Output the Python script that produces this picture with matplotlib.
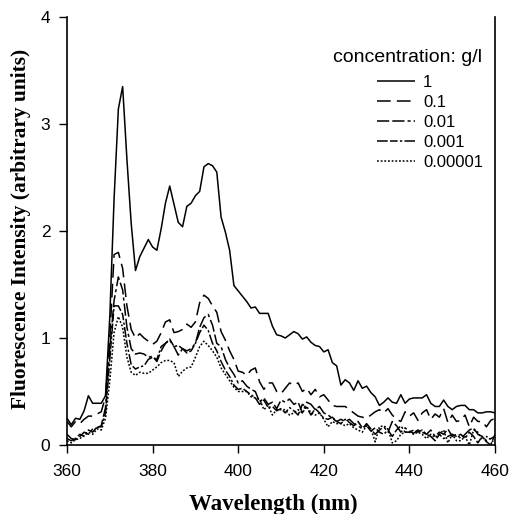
"""Fluorescence emission spectra for several concentrations."""

import numpy as np
from matplotlib import pyplot as plt

# wavelength grid, 1 nm steps
wavelength = np.arange(360, 461)

conc_1 = [
    0.25, 0.19, 0.25, 0.24, 0.32, 0.46, 0.39, 0.39, 0.39, 0.46,
    1.20, 2.30, 3.14, 3.35, 2.67, 2.07, 1.63, 1.76, 1.84, 1.92,
    1.85, 1.82, 2.02, 2.26, 2.42, 2.25, 2.08, 2.04, 2.23, 2.26,
    2.33, 2.37, 2.60, 2.63, 2.61, 2.55, 2.13, 1.99, 1.82, 1.49,
    1.44, 1.39, 1.34, 1.28, 1.29, 1.23, 1.23, 1.23, 1.11, 1.03,
    1.02, 1.00, 1.03, 1.06, 1.04, 0.99, 1.01, 0.96, 0.93, 0.92,
    0.87, 0.89, 0.77, 0.74, 0.56, 0.61, 0.58, 0.51, 0.60, 0.53,
    0.55, 0.49, 0.45, 0.37, 0.40, 0.44, 0.40, 0.39, 0.47, 0.39,
    0.43, 0.44, 0.44, 0.44, 0.47, 0.39, 0.36, 0.36, 0.42, 0.36,
    0.33, 0.36, 0.37, 0.37, 0.33, 0.33, 0.30, 0.30, 0.31, 0.31, 0.30,
]
conc_01 = [
    0.22, 0.17, 0.22, 0.20, 0.24, 0.27, 0.27, 0.29, 0.31, 0.45,
    1.00, 1.78, 1.80, 1.65, 1.30, 1.08, 1.00, 1.04, 1.00, 0.97,
    0.94, 0.97, 1.05, 1.15, 1.17, 1.05, 1.06, 1.08, 1.13, 1.10,
    1.15, 1.33, 1.40, 1.37, 1.30, 1.24, 1.06, 0.98, 0.88, 0.80,
    0.69, 0.68, 0.65, 0.70, 0.72, 0.59, 0.52, 0.58, 0.58, 0.50,
    0.48, 0.53, 0.58, 0.56, 0.58, 0.50, 0.53, 0.47, 0.52, 0.45,
    0.47, 0.42, 0.37, 0.36, 0.36, 0.36, 0.33, 0.30, 0.27, 0.26,
    0.25, 0.28, 0.31, 0.33, 0.30, 0.34, 0.28, 0.24, 0.22, 0.31,
    0.27, 0.30, 0.23, 0.30, 0.33, 0.24, 0.29, 0.26, 0.34, 0.21,
    0.28, 0.22, 0.23, 0.28, 0.17, 0.26, 0.22, 0.22, 0.17, 0.23, 0.25,
]
conc_001 = [
    0.10, 0.06, 0.05, 0.08, 0.12, 0.10, 0.15, 0.16, 0.18, 0.35,
    0.90, 1.35, 1.57, 1.45, 1.10, 0.90, 0.85, 0.86, 0.85, 0.82,
    0.83, 0.78, 0.88, 0.95, 0.98, 0.92, 0.84, 0.90, 0.88, 0.90,
    0.95, 1.10, 1.19, 1.22, 1.12, 0.95, 0.92, 0.80, 0.72, 0.66,
    0.58, 0.60, 0.55, 0.52, 0.50, 0.40, 0.44, 0.38, 0.40, 0.34,
    0.42, 0.40, 0.43, 0.38, 0.40, 0.30, 0.40, 0.38, 0.33, 0.36,
    0.30, 0.28, 0.25, 0.22, 0.24, 0.22, 0.24, 0.20, 0.18, 0.15,
    0.20, 0.15, 0.10, 0.14, 0.17, 0.12, 0.22, 0.18, 0.12, 0.16,
    0.13, 0.11, 0.14, 0.12, 0.10, 0.14, 0.08, 0.12, 0.10, 0.15,
    0.08, 0.10, 0.06, 0.10, 0.14, 0.16, 0.10, 0.08, 0.04, 0.06, 0.08,
]
conc_0001 = [
    0.06, 0.04, 0.06, 0.10, 0.08, 0.14, 0.12, 0.17, 0.17, 0.30,
    0.80, 1.30, 1.30, 1.22, 0.95, 0.75, 0.71, 0.73, 0.74, 0.80,
    0.82, 0.80, 0.92, 0.95, 0.99, 0.92, 0.93, 0.90, 0.86, 0.88,
    0.95, 1.05, 1.12, 1.07, 0.95, 0.88, 0.78, 0.70, 0.64, 0.56,
    0.52, 0.53, 0.50, 0.47, 0.44, 0.38, 0.42, 0.35, 0.36, 0.32,
    0.34, 0.30, 0.35, 0.32, 0.28, 0.38, 0.35, 0.28, 0.34, 0.30,
    0.25, 0.24, 0.26, 0.22, 0.20, 0.24, 0.21, 0.18, 0.22, 0.16,
    0.18, 0.13, 0.16, 0.12, 0.10, 0.14, 0.08, 0.14, 0.18, 0.12,
    0.12, 0.14, 0.12, 0.14, 0.10, 0.08, 0.04, 0.10, 0.06, 0.08,
    0.10, 0.08, 0.10, 0.06, 0.12, 0.08, 0.02, 0.08, 0.03, 0.00, 0.10,
]
conc_000001 = [
    0.04, 0.02, 0.05, 0.06, 0.09, 0.12, 0.10, 0.15, 0.14, 0.25,
    0.60, 1.05, 1.20, 1.10, 0.82, 0.68, 0.65, 0.68, 0.67, 0.67,
    0.70, 0.73, 0.77, 0.79, 0.79, 0.77, 0.64, 0.69, 0.72, 0.73,
    0.82, 0.92, 0.97, 0.93, 0.88, 0.82, 0.72, 0.66, 0.60, 0.54,
    0.50, 0.50, 0.50, 0.45, 0.44, 0.43, 0.33, 0.37, 0.28, 0.33,
    0.33, 0.33, 0.28, 0.30, 0.33, 0.30, 0.36, 0.30, 0.28, 0.30,
    0.24, 0.17, 0.22, 0.20, 0.20, 0.18, 0.20, 0.16, 0.14, 0.12,
    0.18, 0.15, 0.03, 0.17, 0.18, 0.15, 0.02, 0.04, 0.10, 0.12,
    0.12, 0.10, 0.12, 0.10, 0.06, 0.10, 0.07, 0.10, 0.14, 0.02,
    0.10, 0.04, 0.04, 0.08, 0.00, 0.14, 0.12, 0.05, 0.08, 0.05, 0.02,
]

labels = ["1", "0.1", "0.01", "0.001", "0.00001"]
series = [conc_1, conc_01, conc_001, conc_0001, conc_000001]
dash_styles = [
    (0, ()),
    (0, (9, 4)),
    (0, (8, 2, 8, 2, 2, 2)),
    (0, (7, 1.5, 5, 1.5, 1.5, 1.5)),
    (0, (1.2, 1.2)),
]

x_ticks = [360, 380, 400, 420, 440, 460]
y_ticks = [0, 1, 2, 3, 4]

plt.rcParams["font.family"] = ["Liberation Sans", "DejaVu Sans"]

fig = plt.figure(figsize=(5.09, 5.14), dpi=100)
ax = fig.add_axes([67 / 509, 1 - 445 / 514, 428 / 509, 428 / 514])

for values, label, ls in zip(series, labels, dash_styles):
    ax.plot(wavelength, values, color="black", lw=1.1, linestyle=ls, label=label)

ax.set_xlim(360, 460)
ax.set_ylim(0, 4)
ax.set_xticks(x_ticks)
ax.set_yticks(y_ticks)
ax.tick_params(direction="out", length=6, width=1, labelsize=12.5, pad=6)
ax.tick_params(axis="x", pad=8)
ax.spines["top"].set_visible(False)
for side in ["left", "bottom", "right"]:
    ax.spines[side].set_linewidth(1.2)

label_font = dict(family="Liberation Serif", weight="bold")
fig.text(273 / 509, 1 - 504 / 514, "Wavelength (nm)", ha="center", va="center",
         size=16.5, **label_font)
fig.text(21 / 509, 1 - 229 / 514, "Fluorescence Intensity (arbitrary units)",
         rotation=90, ha="center", va="center", size=15.4, **label_font)

# legend title placed by hand, entries sit further right
fig.text(333 / 509, 1 - 58 / 514, "concentration: g/l", ha="left", va="center",
         fontsize=14)
ax.legend(loc="upper left", bbox_to_anchor=(377 / 509, 1 - 75 / 514),
          bbox_transform=fig.transFigure, frameon=False, fontsize=12,
          borderpad=0, borderaxespad=0, handlelength=2.28, handletextpad=0.48,
          labelspacing=0.3)

plt.savefig("out.png", dpi=100)
